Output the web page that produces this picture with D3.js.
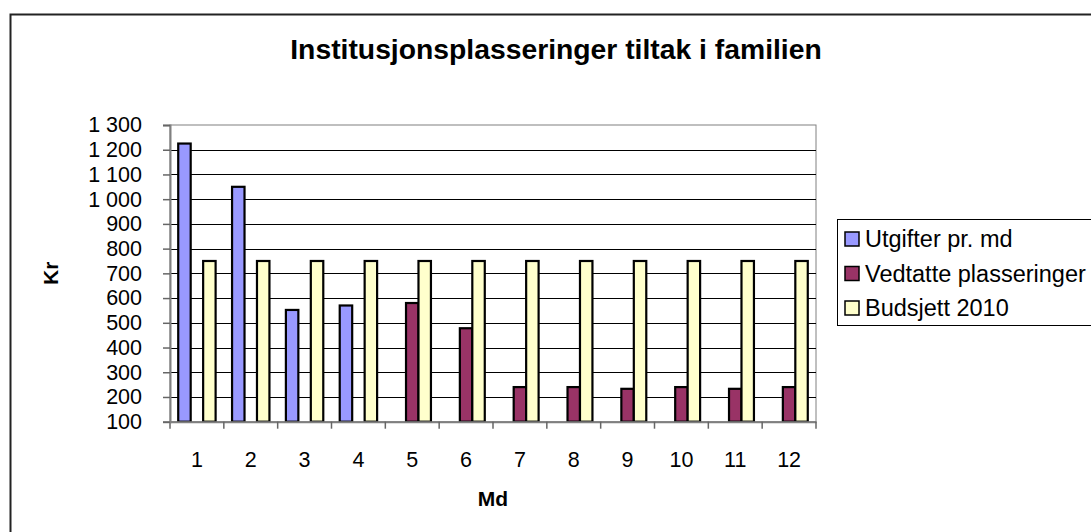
<!DOCTYPE html>
<html>
<head>
<meta charset="utf-8">
<script src="https://cdn.jsdelivr.net/npm/d3@7"></script>
<style>
  body { margin: 0; background: #fff; }
  text { font-family: "Liberation Sans", Arial, sans-serif; fill: #000; }
</style>
</head>
<body>
<script>
// chart values
let months = ["1", "2", "3", "4", "5", "6", "7", "8", "9", "10", "11", "12"];
let seriesNames = ["Utgifter pr. md", "Vedtatte plasseringer", "Budsjett 2010"];
let utgifter = [1225, 1050, 552, 570, null, null, null, null, null, null, null, null];
let vedtatte = [null, null, null, null, 580, 478, 240, 240, 233, 240, 233, 240];
let budsjett = [750, 750, 750, 750, 750, 750, 750, 750, 750, 750, 750, 750];
let yTicks = [100, 200, 300, 400, 500, 600, 700, 800, 900, 1000, 1100, 1200, 1300];
let colors = ["#9999ff", "#993366", "#ffffcc"];

let margin = null,
    width = null,
    height = null;

let svg = null;
let x0, x1, y = null; // scales

setupCanvasSize();
appendSvg("body");
appendFrame();
setupXScale();
setupYScale();
appendGrid();
appendChartBars();
appendXAxis();
appendYAxis();
appendTitles();
appendLegend();

function setupCanvasSize() {
  margin = {top: 125, left: 170, bottom: 110, right: 275};
  width = 1091 - margin.left - margin.right;
  height = 532 - margin.top - margin.bottom - 0.3;
}

function appendSvg(domElement) {
  let root = d3.select(domElement).append("svg")
      .attr("width", 1091)
      .attr("height", 532);
  root.append("rect")
      .attr("class", "frame")
      .attr("x", 10.5).attr("y", 14.5)
      .attr("width", 1200).attr("height", 600)
      .attr("fill", "#fff")
      .attr("stroke", "#222")
      .attr("stroke-width", 2);
  svg = root.append("g")
      .attr("transform", `translate(${margin.left}, ${margin.top})`);
}

function appendFrame() {
  // plot area border
  svg.append("rect")
    .attr("x", 0).attr("y", 0)
    .attr("width", width).attr("height", height)
    .attr("fill", "#fff")
    .attr("stroke", "#808080")
    .attr("stroke-width", 1);
}

// Scales

function setupXScale() {
  x0 = d3.scaleBand()
    .range([0, width])
    .domain(months);
  x1 = d3.scaleBand()
    .domain(seriesNames)
    .range([0, x0.bandwidth()])
    .paddingOuter(0.66);
}

function setupYScale() {
  y = d3.scaleLinear()
    .range([height, 0])
    .domain([100, 1300]);
}

function appendGrid() {
  svg.append("g")
    .selectAll("line")
    .data(yTicks.slice(1, -1))
    .enter()
    .append("line")
    .attr("x1", 0).attr("x2", width)
    .attr("y1", d => Math.round(y(d)) + 0.5)
    .attr("y2", d => Math.round(y(d)) + 0.5)
    .attr("stroke", "#000")
    .attr("stroke-width", 1);
}

// Bars

function appendChartBars() {
  let table = months.map(function(m, i) {
    return {month: m, values: [utgifter[i], vedtatte[i], budsjett[i]]};
  });

  let groups = svg.selectAll(".month")
    .data(table)
    .enter()
    .append("g")
    .attr("class", "month")
    .attr("transform", d => `translate(${x0(d.month)},0)`);

  groups.selectAll("rect")
    .data(d => d.values.map((v, k) => ({name: seriesNames[k], value: v, k: k})).filter(d => d.value != null))
    .enter()
    .append("rect")
    .attr("x", d => x1(d.name))
    .attr("y", d => y(d.value))
    .attr("width", x1.bandwidth())
    .attr("height", d => y(100) - y(d.value))
    .attr("fill", d => colors[d.k])
    .attr("stroke", "#000")
    .attr("stroke-width", 2.2);
}

// Axis

function appendXAxis() {
  let g = svg.append("g")
    .attr("transform", `translate(0, ${height})`)
    .call(d3.axisBottom(x0).tickSize(0).tickPadding(30));
  g.select(".domain").attr("stroke", "#808080").attr("stroke-width", 2);
  g.selectAll("text").attr("font-size", "21.5px").attr("font-family", "Liberation Sans, Arial, sans-serif");

  // tick marks at band edges
  g.selectAll(".edge")
    .data(months.concat(["end"]))
    .enter()
    .append("line")
    .attr("class", "edge")
    .attr("x1", (d, i) => i * x0.step())
    .attr("x2", (d, i) => i * x0.step())
    .attr("y1", 0).attr("y2", 7)
    .attr("stroke", "#666")
    .attr("stroke-width", 1.5);
}

function appendYAxis() {
  let fmt = d3.formatLocale({decimal: ",", thousands: " ", grouping: [3], currency: ["", ""]}).format(",");
  let g = svg.append("g")
    .call(d3.axisLeft(y).tickValues(yTicks).tickFormat(fmt).tickSize(7).tickPadding(21));
  g.select(".domain").attr("stroke", "#808080").attr("stroke-width", 2);
  g.selectAll(".tick line").attr("stroke", "#666").attr("stroke-width", 1.5);
  g.selectAll("text").attr("font-size", "21.5px").attr("font-family", "Liberation Sans, Arial, sans-serif");
}

function appendTitles() {
  svg.append("text")
    .attr("x", 386)
    .attr("y", -66)
    .attr("text-anchor", "middle")
    .attr("font-size", "28.3px")
    .attr("font-weight", "bold")
    .text("Institusjonsplasseringer tiltak i familien");

  svg.append("text")
    .attr("x", width / 2)
    .attr("y", height + 84)
    .attr("text-anchor", "middle")
    .attr("font-size", "21px")
    .attr("font-weight", "bold")
    .text("Md");

  svg.append("text")
    .attr("transform", `translate(-112, ${height / 2}) rotate(-90)`)
    .attr("text-anchor", "middle")
    .attr("font-size", "21px")
    .attr("font-weight", "bold")
    .text("Kr");
}

// Legend

function appendLegend() {
  let box = svg.append("g")
    .attr("transform", `translate(${width + 21}, 94)`);
  box.append("rect")
    .attr("x", 0.5).attr("y", 0.5)
    .attr("width", 400).attr("height", 106)
    .attr("fill", "#fff")
    .attr("stroke", "#000")
    .attr("stroke-width", 1);

  let legend = box.selectAll(".legend")
    .data(seriesNames)
    .enter()
    .append("g")
    .attr("class", "legend")
    .attr("transform", (d, i) => `translate(8, ${20 + i * 34.5})`);

  legend.append("rect")
    .attr("x", 0).attr("y", -7)
    .attr("width", 14).attr("height", 14)
    .style("fill", (d, i) => colors[i])
    .style("stroke", "#000")
    .style("stroke-width", 1.5);

  legend.append("text")
    .attr("x", 20)
    .attr("y", 0)
    .attr("dy", "0.36em")
    .attr("font-size", "23.5px")
    .text(d => d);
}
</script>
</body>
</html>
